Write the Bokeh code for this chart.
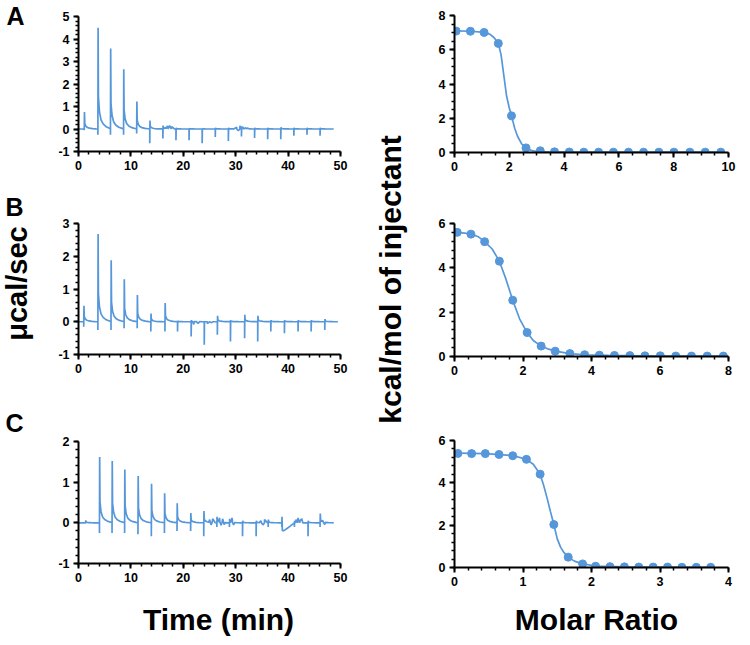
from math import pi
from bokeh.plotting import figure
from bokeh.layouts import row, column
from bokeh.models import Range1d, SingleIntervalTicker, CustomJSTickFormatter
from bokeh.core.properties import value
from bokeh.embed import file_html
from bokeh.resources import INLINE

BLUE = "#5597DA"
FONT = "Liberation Sans"

# ---------------- raw thermograms (time in min, power in ucal/sec) ----------------
A_times = [1.1, 3.7, 6.1, 8.6, 11.1, 13.6, 16.1, 18.6, 21.1, 23.6, 26.1, 28.6, 31.1, 33.6, 36.1, 38.6, 41.1, 43.6, 46.1]
A_peaks = [0.75, 4.5, 3.58, 2.65, 1.22, 0.38, 0.15, 0.05, 0.03, 0.02, 0.05, 0.05, 0.12, 0.05, 0.05, 0.08, 0.05, 0.05, 0.05]
A_dips = [-0.05, -0.26, -0.26, -0.26, -0.2, -0.63, -0.42, -0.5, -0.5, -0.63, -0.35, -0.53, -0.33, -0.4, -0.45, -0.45, -0.3, -0.25, -0.3]
A_base = [0.0] * 19
A_end = 48.7
A_noise_t = [16.6, 17.0, 17.4, 17.8, 30.2, 30.5, 30.8, 31.4, 31.8, 32.2]
A_noise_v = [0.08, 0.14, 0.15, 0.10, 0.08, -0.08, 0.14, 0.10, 0.06, 0.04]

B_times = [1.0, 3.7, 6.2, 8.7, 11.2, 13.8, 16.5, 18.9, 21.5, 24.0, 26.5, 29.0, 31.7, 34.2, 36.7, 39.3, 41.9, 44.4, 47.0]
B_peaks = [0.49, 2.68, 1.88, 1.30, 0.82, 0.25, 0.57, 0.03, 0.05, 0.0, 0.18, 0.05, 0.21, 0.18, 0.05, 0.05, 0.05, 0.05, 0.08]
B_dips = [-0.15, -0.25, -0.25, -0.2, -0.2, -0.3, -0.3, -0.3, -0.45, -0.7, -0.4, -0.6, -0.5, -0.6, -0.3, -0.35, -0.3, -0.3, -0.25]
B_base = [0.0] * 19
B_end = 49.5
B_noise_t = [22.0, 22.8, 24.6, 25.4]
B_noise_v = [-0.08, -0.05, -0.06, -0.03]

C_times = [1.35, 4.0, 6.4, 8.8, 11.35, 13.9, 16.4, 18.8, 21.4, 23.9, 26.4, 28.8, 31.3, 33.9, 36.2, 38.8, 41.2, 43.8, 46.1]
C_peaks = [0.06, 1.62, 1.52, 1.31, 1.15, 0.96, 0.73, 0.48, 0.24, 0.29, 0.15, 0.10, 0.05, 0.05, 0.08, 0.15, 0.05, 0.05, 0.23]
C_dips = [0.0, -0.25, -0.25, -0.25, -0.28, -0.33, -0.25, -0.2, -0.2, -0.33, -0.1, -0.1, -0.33, -0.33, -0.1, -0.1, -0.1, -0.33, -0.1]
C_base = [0.0] * 15 + [-0.25] + [0.0] * 3
C_end = 48.7
C_noise_t = [25.0, 25.3, 25.6, 26.9, 27.2, 27.5, 27.8, 29.3, 29.6, 34.8, 35.2, 35.5, 41.5, 41.9, 42.3, 42.6, 46.6, 47.0]
C_noise_v = [0.08, -0.05, 0.10, 0.12, -0.06, 0.10, -0.04, 0.12, -0.05, 0.05, -0.05, 0.08, 0.08, 0.12, 0.05, 0.10, 0.06, -0.04]

# ---------------- integrated isotherms ----------------
A_ratio = [0.06, 0.58, 1.08, 1.60, 2.08, 2.61, 3.13, 3.65, 4.19, 4.72, 5.26, 5.80, 6.35, 6.90, 7.46, 8.01, 8.59, 9.15, 9.72]
A_heat = [7.09, 7.08, 7.01, 6.37, 2.14, 0.27, 0.10, 0.04, 0.03, 0.02, 0.02, 0.02, 0.02, 0.02, 0.02, 0.02, 0.02, 0.02, 0.02]
A_fit_x = [0.06, 0.6, 1.08, 1.3, 1.45, 1.6, 1.7, 1.8, 1.9, 2.0, 2.08, 2.2, 2.3, 2.45, 2.61, 2.8, 3.0, 3.5, 4.2, 9.72]
A_fit_y = [7.10, 7.08, 7.02, 6.9, 6.7, 6.37, 5.7, 4.5, 3.3, 2.6, 2.14, 1.4, 0.95, 0.5, 0.27, 0.12, 0.06, 0.03, 0.02, 0.02]

B_ratio = [0.08, 0.48, 0.88, 1.31, 1.70, 2.12, 2.53, 2.94, 3.37, 3.80, 4.23, 4.67, 5.12, 5.56, 6.01, 6.46, 6.92, 7.38, 7.85]
B_heat = [5.60, 5.52, 5.18, 4.30, 2.54, 1.08, 0.47, 0.24, 0.13, 0.08, 0.06, 0.05, 0.04, 0.03, 0.03, 0.02, 0.02, 0.02, 0.02]
B_fit_x = [0.08, 0.3, 0.48, 0.7, 0.88, 1.1, 1.31, 1.5, 1.70, 1.9, 2.12, 2.3, 2.53, 2.75, 2.94, 3.37, 3.8, 4.5, 5.5, 7.85]
B_fit_y = [5.60, 5.57, 5.52, 5.40, 5.18, 4.85, 4.30, 3.50, 2.54, 1.70, 1.08, 0.72, 0.47, 0.33, 0.24, 0.13, 0.08, 0.05, 0.03, 0.02]

C_ratio = [0.05, 0.25, 0.45, 0.65, 0.85, 1.05, 1.25, 1.45, 1.66, 1.87, 2.06, 2.27, 2.48, 2.69, 2.90, 3.11, 3.32, 3.53, 3.74]
C_heat = [5.39, 5.38, 5.38, 5.34, 5.28, 5.11, 4.41, 2.03, 0.49, 0.17, 0.06, 0.04, 0.03, 0.02, 0.02, 0.02, 0.01, 0.01, 0.01]
C_fit_x = [0.05, 0.45, 0.85, 1.05, 1.15, 1.25, 1.3, 1.35, 1.4, 1.45, 1.5, 1.55, 1.6, 1.66, 1.75, 1.87, 2.06, 2.5, 3.74]
C_fit_y = [5.40, 5.38, 5.29, 5.11, 4.88, 4.41, 3.9, 3.3, 2.65, 2.03, 1.35, 0.95, 0.7, 0.49, 0.3, 0.17, 0.07, 0.03, 0.01]

# shape of a single injection spike (time offsets after the injection, fraction of peak)
SPIKE_DT = [0.1, 0.3, 0.6, 1.0, 1.6, 2.2]
SPIKE_FR = [0.32, 0.17, 0.09, 0.05, 0.022, 0.008]


def trace(times, peaks, dips, bases, end, noise_t, noise_v):
    pts = [(0.0, 0.0)]
    for t, p, d, b in zip(times, peaks, dips, bases):
        pts += [(t, 0.0), (t, d), (t + 0.04, p)]
        for o, f in zip(SPIKE_DT, SPIKE_FR):
            pts.append((t + o, b * (1 - o / 2.4) + f * p))
    pts += list(zip(noise_t, noise_v))
    pts.append((end, 0.0))
    pts.sort(key=lambda q: q[0])
    return [q[0] for q in pts], [q[1] for q in pts]


def style_axes(p, xint, xminor, yint, yminor):
    p.xaxis.ticker = SingleIntervalTicker(interval=xint, num_minor_ticks=xminor)
    p.yaxis.ticker = SingleIntervalTicker(interval=yint, num_minor_ticks=yminor)
    for ax in (p.xaxis[0], p.yaxis[0]):
        ax.formatter = CustomJSTickFormatter(code="return tick.toFixed(0)")
        ax.axis_line_width = 2
        ax.axis_line_color = "black"
        ax.major_tick_line_width = 2
        ax.major_tick_out = 5
        ax.major_tick_in = 0
        ax.minor_tick_line_width = 1.5
        ax.minor_tick_out = 3
        ax.minor_tick_in = 0
        ax.major_label_text_font = FONT
        ax.major_label_text_font_style = "bold"
        ax.major_label_text_font_size = "12.5px"
        ax.major_label_text_color = "black"
        ax.major_label_standoff = 4
    p.xgrid.visible = False
    p.ygrid.visible = False
    p.outline_line_color = None


def make_fig(w, h, xr, yr, bl, br, bt, bb):
    p = figure(width=w, height=h, x_range=Range1d(*xr), y_range=Range1d(*yr),
               output_backend="svg", toolbar_location=None,
               min_border_left=bl, min_border_right=br, min_border_top=bt, min_border_bottom=bb)
    return p


def raw_fig(h, yr, bl, br, bt, bb, times, peaks, dips, bases, end, nt, nv):
    p = make_fig(300, h, (0, 50), yr, bl, br, bt, bb)
    xs, ys = trace(times, peaks, dips, bases, end, nt, nv)
    p.line(xs, ys, line_color=BLUE, line_width=1.7)
    style_axes(p, 10, 5, 1, 5)
    return p


def iso_fig(h, xr, yr, bl, br, bt, bb, rx, ry, fx, fy, xint, xminor, yminor):
    p = make_fig(336, h, xr, yr, bl, br, bt, bb)
    p.line(fx, fy, line_color=BLUE, line_width=1.7)
    p.scatter(rx, ry, size=8, fill_color=BLUE, line_color=BLUE)
    style_axes(p, xint, xminor, 2, yminor)
    return p


def label_fig(w, h):
    p = figure(width=w, height=h, x_range=Range1d(0, w), y_range=Range1d(h, 0),
               output_backend="svg", toolbar_location=None,
               x_axis_location=None, y_axis_location=None,
               min_border_left=0, min_border_right=0, min_border_top=0, min_border_bottom=0)
    p.xgrid.visible = False
    p.ygrid.visible = False
    p.outline_line_color = None
    return p


def put_text(p, x, y, txt, size, angle=0.0):
    p.text(x=[x], y=[y], text=[txt], angle=angle, text_align="center", text_baseline="middle",
           text_font=value(FONT), text_font_style="bold", text_font_size=size, text_color="black")


# left column of raw data (x 50..350)
la = raw_fig(190, (-1, 5), 28, 10, 16, 39, A_times, A_peaks, A_dips, A_base, A_end, A_noise_t, A_noise_v)
lb = raw_fig(215, (-1, 3), 26, 10, 33, 51, B_times, B_peaks, B_dips, B_base, B_end, B_noise_t, B_noise_v)
lc = raw_fig(190, (-1, 2), 23, 5, 36, 32, C_times, C_peaks, C_dips, C_base, C_end, C_noise_t, C_noise_v)

# right column of isotherms (x 410..746)
ra = iso_fig(190, (0, 10), (0, 8), 40, 18, 15, 38, A_ratio, A_heat, A_fit_x, A_fit_y, 2, 4, 4)
rb = iso_fig(215, (0, 8), (0, 6), 43, 16, 33, 49, B_ratio, B_heat, B_fit_x, B_fit_y, 2, 5, 5)
rc = iso_fig(190, (0, 4), (0, 6), 44, 16, 35, 28, C_ratio, C_heat, C_fit_x, C_fit_y, 1, 5, 5)

# gutters with panel letters and axis titles
gl = label_fig(50, 595)
put_text(gl, 15, 15, "A", "25px")
put_text(gl, 14, 206, "B", "25px")
put_text(gl, 14, 422, "C", "25px")
put_text(gl, 16, 283, "\u03bccal/sec", "29px", pi / 2)

gm = label_fig(60, 595)
put_text(gm, 40, 279, "kcal/mol of injectant", "30px", pi / 2)

gb = label_fig(746, 45)
put_text(gb, 218, 24, "Time (min)", "30px")
put_text(gb, 596, 24, "Molar Ratio", "30px")

layout = column(row(gl, column(la, lb, lc), gm, column(ra, rb, rc)), gb)

with open("out.html", "w") as f:
    f.write(file_html(layout, INLINE))
